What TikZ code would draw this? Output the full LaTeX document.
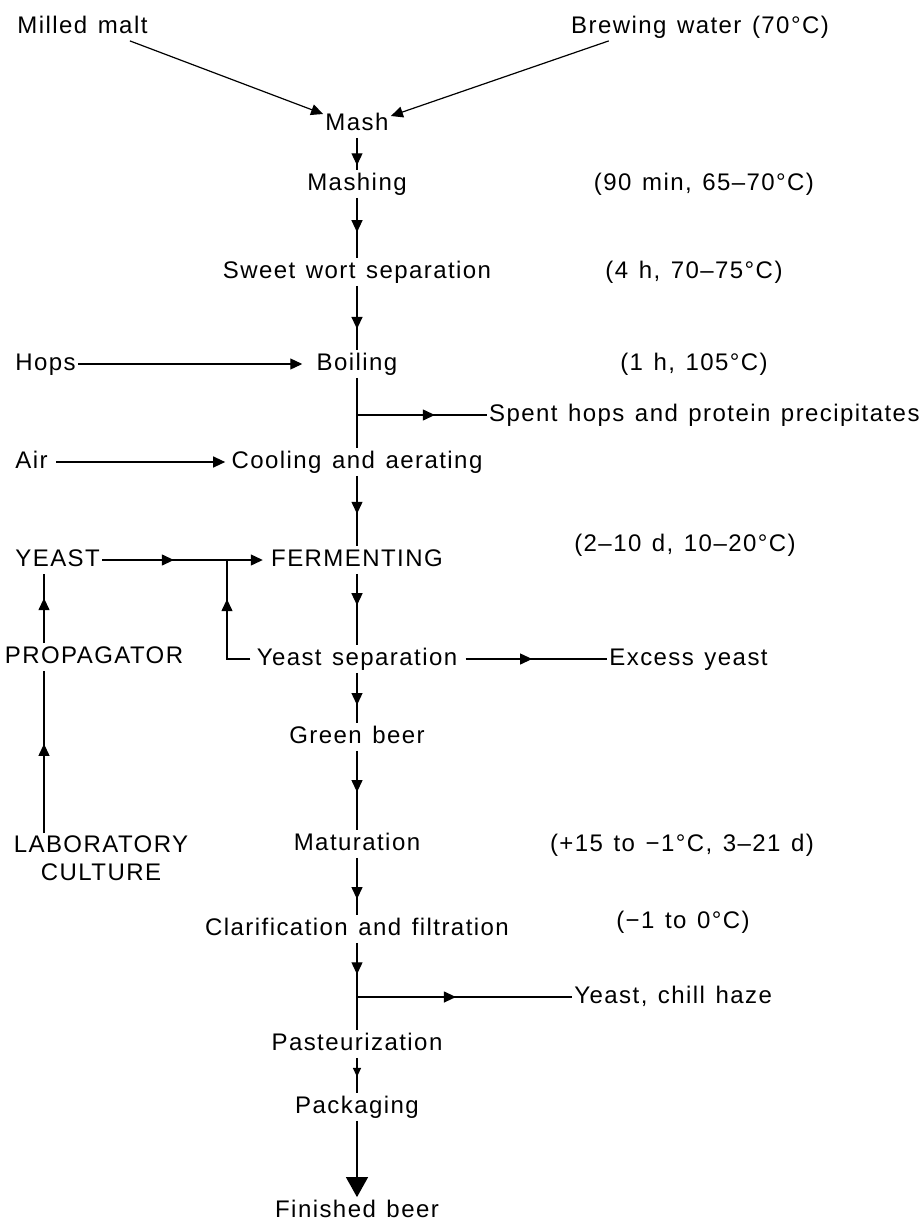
\documentclass[tikz,border=0pt]{standalone}
\usepackage{fontspec}
\setmainfont{Liberation Sans}[LetterSpace=6,WordSpace=1.3]
\usetikzlibrary{arrows.meta,decorations.markings}

\begin{document}
\begin{tikzpicture}[x=0.5pt,y=-0.5pt,
  every node/.style={inner sep=1pt,text height=9pt,text depth=2.5pt,font=\fontsize{12}{14}\selectfont},
  ln/.style={line width=0.6pt},
  tip/.style={ln,-{Triangle[length=6pt,width=5.5pt]}},
  flow/.style={ln,postaction={decorate,decoration={markings,mark=at position #1 with {\arrow{Triangle[length=6pt,width=5.5pt]}}}}}]
\useasboundingbox (0,0) rectangle (923,1221);
\def\cx{357}
\def\lx{44}
% main column
\node (mash) at (\cx,124) {Mash};
\node (mashing) at (\cx,184) {Mashing};
\node (sweet) at (\cx,272) {Sweet wort separation};
\node (boil) at (\cx,364) {Boiling};
\node (cool) at (\cx,462) {Cooling and aerating};
\node (ferm) at (\cx,560) {FERMENTING};
\node (ysep) at (\cx,659) {Yeast separation};
\node (green) at (\cx,737) {Green beer};
\node (mat) at (\cx,844) {Maturation};
\node (clar) at (\cx,929) {Clarification and filtration};
\node (past) at (\cx,1044) {Pasteurization};
\node (pack) at (\cx,1107) {Packaging};
\node (fin) at (\cx,1211) {Finished beer};
% conditions
\node (cMashing) at (704,184) {(90 min, 65--70°C)};
\node (cSweet) at (694,272) {(4 h, 70--75°C)};
\node (cBoil) at (694,364) {(1 h, 105°C)};
\node (cFerm) at (685,545) {(2--10 d, 10--20°C)};
\node (cMat) at (682,845) {(+15 to −1°C, 3--21 d)};
\node (cClar) at (683,922) {(−1 to 0°C)};
% inputs and outputs
\node[anchor=west] (malt) at (15,27) {Milled malt};
\node (water) at (700,27) {Brewing water (70°C)};
\node[anchor=west] (hops) at (13,364) {Hops};
\node[anchor=west] (air) at (13,462) {Air};
\node[anchor=west] (yeast) at (13,560) {YEAST};
\node (prop) at (94,657) {PROPAGATOR};
\node[align=center,text height=,text depth=] (lab) at (101,858) {LABORATORY\\CULTURE};
\node[anchor=east] (spent) at (922,415) {Spent hops and protein precipitates};
\node[anchor=west] (excess) at (607,659) {Excess yeast};
\node[anchor=west] (chill) at (572,997) {Yeast, chill haze};
\coordinate (bs) at (\cx,415);
\coordinate (bc) at (\cx,997);
\coordinate (jn) at (227,560);
\coordinate (lx) at (\lx,0);

\draw[tip] ([xshift=-10pt]malt.south east) -- ([yshift=5pt]mash.west);
\draw[tip] ([xshift=20pt]water.south west) -- ([yshift=4pt]mash.east);
\draw[flow=0.85] (mash) -- (mashing);
\draw[flow=0.57] (mashing) -- (sweet);
\draw[flow=0.67] (sweet) -- (boil);
\draw[tip,shorten >=6pt] (hops) -- (boil);
\draw[ln] (boil) -- (cool);
\draw[flow=0.6] (bs) -- (spent.west);
\draw[tip,shorten <=3pt,shorten >=2pt] (air) -- (cool);
\draw[flow=0.54] (cool) -- (ferm);
\draw[tip,shorten >=3pt,flow=0.43] (yeast) -- (ferm);
\draw[flow=0.44] (ferm) -- (ysep);
\draw[flow=0.68] ([xshift=-2pt]ysep.west) -- (ysep.west -| jn) -- (jn);
\draw[flow=0.47] ([xshift=3pt]ysep.east) -- (excess.west);
\draw[flow=0.64] (ysep) -- (green);
\draw[flow=0.52] (green) -- (mat);
\draw[flow=0.72] (mat) -- (clar);
\draw[flow=0.36] (clar) -- (past);
\draw[flow=0.46] (bc) -- (chill.west);
\draw[ln,postaction={decorate,decoration={markings,mark=at position 0.54 with {\arrow{Triangle[length=4.5pt,width=4pt]}}}}] (past) -- (pack);
\draw[ln,-{Triangle[length=10pt,width=11pt]}] (pack) -- (fin);
\draw[flow=0.65] (prop.north -| lx) -- (yeast.south -| lx);
\draw[flow=0.55] (lab.north -| lx) -- (prop.south -| lx);
%\draw[ln] (jn) -- (ferm.west);
\end{tikzpicture}
\end{document}
